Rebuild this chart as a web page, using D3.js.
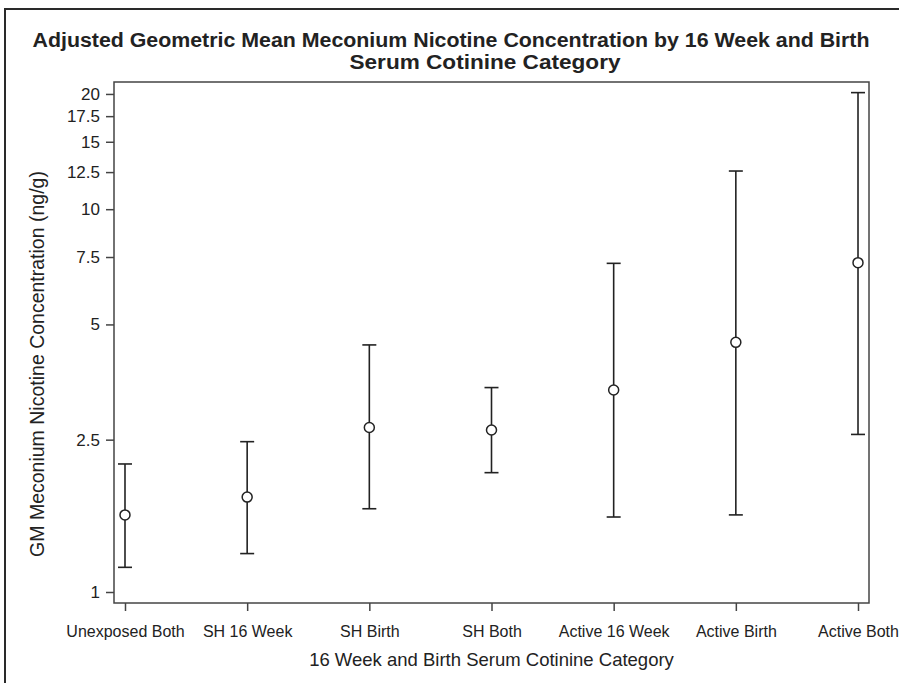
<!DOCTYPE html>
<html>
<head>
<meta charset="utf-8">
<script src="https://cdn.jsdelivr.net/npm/d3@7"></script>
<style>
   body { margin: 0; background: #fff; }
   text { font-family: "Liberation Sans", Arial, sans-serif; fill: #222; }
</style>
</head>
<body>
<div id="chart"></div>
<script>
// data
var categories = ["Unexposed Both", "SH 16 Week", "SH Birth", "SH Both",
   "Active 16 Week", "Active Birth", "Active Both"];
var gmValues = [1.59, 1.77, 2.69, 2.65, 3.37, 4.49, 7.25];
var lowerCI = [1.16, 1.26, 1.65, 2.05, 1.57, 1.59, 2.58];
var upperCI = [2.16, 2.47, 4.42, 3.42, 7.22, 12.58, 20.16];
var yTicks = [1, 2.5, 5, 7.5, 10, 12.5, 15, 17.5, 20];

var svgWidth = 899;
var svgHeight = 683;

var margin = {
   top: 82,
   right: 30,
   bottom: 80,
   left: 114
};

var width = svgWidth - margin.left - margin.right;
var height = svgHeight - margin.top - margin.bottom;

var svg = d3.select("#chart")
   .append("svg")
   .attr("width", svgWidth)
   .attr("height", svgHeight);

// outer frame (top and left edges visible)
svg.append("path")
   .attr("d", `M5,${svgHeight} V9 H${svgWidth}`)
   .attr("fill", "none")
   .attr("stroke", "#2a2a2a")
   .attr("stroke-width", 2);

// title
var title = svg.append("text")
   .attr("text-anchor", "middle")
   .attr("font-size", "20px")
   .attr("font-weight", "bold");

title.append("tspan")
   .attr("x", 451)
   .attr("y", 47)
   .attr("textLength", 837)
   .attr("lengthAdjust", "spacingAndGlyphs")
   .text("Adjusted Geometric Mean Meconium Nicotine Concentration by 16 Week and Birth");

title.append("tspan")
   .attr("x", 485)
   .attr("y", 69)
   .attr("textLength", 271)
   .attr("lengthAdjust", "spacingAndGlyphs")
   .text("Serum Cotinine Category");

var chartGroup = svg.append("g")
   .attr("transform", `translate(${margin.left}, ${margin.top})`);

// scales
var xScale = d3.scalePoint()
   .domain(categories)
   .range([0, width])
   .padding(0.09);

var yScale = d3.scaleLog()
   .domain([0.936, 21.49])
   .range([height, 0]);

// plot box
chartGroup.append("rect")
   .attr("width", width)
   .attr("height", height)
   .attr("fill", "none")
   .attr("stroke", "#444")
   .attr("stroke-width", 1.5);

// axes
var bottomAxis = d3.axisBottom(xScale)
   .tickSize(8)
   .tickPadding(15);

var leftAxis = d3.axisLeft(yScale)
   .tickValues(yTicks)
   .tickFormat(d3.format("~g"))
   .tickSize(8)
   .tickPadding(6);

var xAxis = chartGroup.append("g")
   .attr("transform", `translate(0, ${height})`)
   .call(bottomAxis);

var yAxis = chartGroup.append("g")
   .call(leftAxis);

[xAxis, yAxis].forEach(function (axis) {
   axis.select(".domain").remove();
   axis.selectAll("line")
      .attr("stroke", "#444")
      .attr("stroke-width", 1.5);
   axis.selectAll("text")
      .attr("font-size", "17px")
      .attr("font-family", "Liberation Sans, Arial, sans-serif")
      .attr("fill", "#222");
});

// x tick labels a touch smaller so the last one fits
xAxis.selectAll("text")
   .attr("font-size", "16px");

// error bars
var bars = chartGroup.selectAll(".bar")
   .data(categories)
   .enter()
   .append("g")
   .attr("class", "bar")
   .attr("transform", d => `translate(${xScale(d)}, 0)`);

bars.append("line")
   .attr("y1", (d, i) => yScale(lowerCI[i]))
   .attr("y2", (d, i) => yScale(upperCI[i]))
   .attr("stroke", "#222")
   .attr("stroke-width", 1.6);

bars.append("line")
   .attr("x1", -7)
   .attr("x2", 7)
   .attr("y1", (d, i) => yScale(upperCI[i]))
   .attr("y2", (d, i) => yScale(upperCI[i]))
   .attr("stroke", "#222")
   .attr("stroke-width", 1.6);

bars.append("line")
   .attr("x1", -7)
   .attr("x2", 7)
   .attr("y1", (d, i) => yScale(lowerCI[i]))
   .attr("y2", (d, i) => yScale(lowerCI[i]))
   .attr("stroke", "#222")
   .attr("stroke-width", 1.6);

// geometric mean markers
bars.append("circle")
   .attr("cy", (d, i) => yScale(gmValues[i]))
   .attr("r", 5)
   .attr("fill", "#fff")
   .attr("stroke", "#222")
   .attr("stroke-width", 1.5);

// axis labels
chartGroup.append("text")
   .attr("x", width / 2)
   .attr("y", height + 63)
   .attr("text-anchor", "middle")
   .attr("font-size", "18.5px")
   .text("16 Week and Birth Serum Cotinine Category");

chartGroup.append("text")
   .attr("transform", "rotate(-90)")
   .attr("x", -(364 - margin.top))
   .attr("y", -70)
   .attr("text-anchor", "middle")
   .attr("font-size", "19.5px")
   .text("GM Meconium Nicotine Concentration (ng/g)");
</script>
</body>
</html>
